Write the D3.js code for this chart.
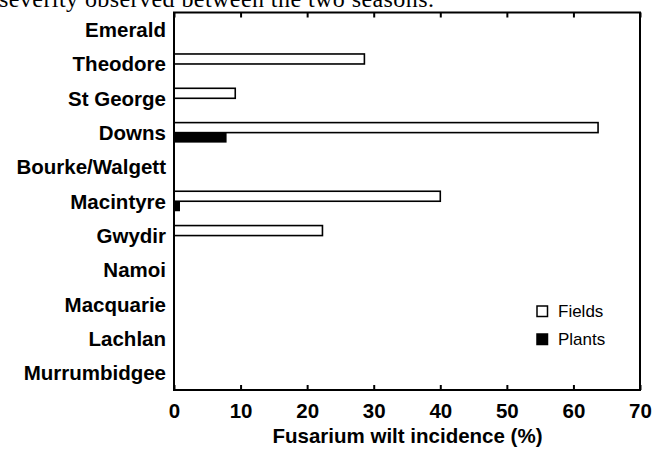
<!DOCTYPE html>
<html>
  <head>
  <title>Fusarium wilt incidence</title>
  </head>
  <body>
    <style>
        body, html {
          margin: 0;
          padding: 0;
          background: #fff;
          overflow: hidden;
        }
      </style>

  <svg id="svg" width="652" height="451"></svg>

  <script src="https://d3js.org/d3.v7.min.js"></script>
  <script>
    // Districts, top to bottom
    const regions = ['Emerald', 'Theodore', 'St George', 'Downs', 'Bourke/Walgett',
        'Macintyre', 'Gwydir', 'Namoi', 'Macquarie', 'Lachlan', 'Murrumbidgee']
    // % of fields with wilt
    const fields = [0, 28.6, 9.2, 63.7, 0, 40.0, 22.3, 0, 0, 0, 0]
    // % of plants with wilt
    const plants = [0, 0, 0, 7.9, 0, 0.9, 0, 0, 0, 0, 0]
    const xTicks = [0, 10, 20, 30, 40, 50, 60, 70]

    const plotLeft = 174
    const plotRight = 640
    const plotTop = 12.5
    const plotBottom = 390

    const svg = d3.select('#svg')

    // cropped caption line from the page above the figure
    svg.append('text')
        .attr('x', -1)
        .attr('y', 6.5)
        .attr('font-family', 'Liberation Serif, Times New Roman, serif')
        .attr('font-size', 24)
        .attr('textLength', 435)
        .text('severity observed between the two seasons.')

    const xscale = d3.scaleLinear()
        .domain([0, 70])
        .range([plotLeft, plotRight])

    const yscale = d3.scaleBand()
        .domain(regions)
        .range([plotTop, plotBottom])

    const barH = 10
    const rows = regions.map((r, i) => ({ region: r, fields: fields[i], plants: plants[i] }))

    const graph = svg.append('g')

    // open bars = fields
    graph.selectAll('.field')
        .data(rows.filter(d => d.fields > 0))
        .join('rect')
        .attr('x', xscale(0))
        .attr('y', d => yscale(d.region) + yscale.bandwidth() / 2 - barH)
        .attr('width', d => xscale(d.fields) - xscale(0))
        .attr('height', barH)
        .attr('fill', '#fff')
        .attr('stroke', '#000')
        .attr('stroke-width', 1.6)

    // filled bars = plants
    graph.selectAll('.plant')
        .data(rows.filter(d => d.plants > 0))
        .join('rect')
        .attr('x', xscale(0))
        .attr('y', d => yscale(d.region) + yscale.bandwidth() / 2)
        .attr('width', d => xscale(d.plants) - xscale(0))
        .attr('height', barH)
        .attr('fill', '#000')

    // frame
    svg.append('rect')
        .attr('x', plotLeft)
        .attr('y', plotTop)
        .attr('width', plotRight - plotLeft)
        .attr('height', plotBottom - plotTop)
        .attr('fill', 'none')
        .attr('stroke', '#000')
        .attr('stroke-width', 2)

    // inward ticks, bottom and top
    const bottomAxis = d3.axisBottom(xscale).tickValues(xTicks).tickSize(-5).tickFormat(d3.format('d'))
    const topAxis = d3.axisTop(xscale).tickValues(xTicks).tickSize(-5).tickFormat('')

    const bAxis = svg.append('g')
        .attr('transform', `translate(0, ${plotBottom})`)
        .call(bottomAxis)
    bAxis.select('.domain').remove()
    bAxis.selectAll('line').attr('stroke-width', 2)
    bAxis.selectAll('text')
        .attr('y', 0)
        .attr('dy', 28)
        .attr('font-family', 'Liberation Sans, Arial, sans-serif')
        .attr('font-weight', 'bold')
        .attr('font-size', 20.5)
        .attr('fill', '#000')

    const tAxis = svg.append('g')
        .attr('transform', `translate(0, ${plotTop})`)
        .call(topAxis)
    tAxis.select('.domain').remove()
    tAxis.selectAll('line').attr('stroke-width', 2)

    // category labels
    svg.append('g')
        .selectAll('text')
        .data(regions)
        .join('text')
        .attr('x', 166)
        .attr('y', d => yscale(d) + yscale.bandwidth() / 2)
        .attr('dy', '0.36em')
        .attr('text-anchor', 'end')
        .attr('font-family', 'Liberation Sans, Arial, sans-serif')
        .attr('font-weight', 'bold')
        .attr('font-size', 20.5)
        .text(d => d)

    // axis title
    svg.append('text')
        .attr('x', (plotLeft + plotRight) / 2 + 0.5)
        .attr('y', 443)
        .attr('text-anchor', 'middle')
        .attr('font-family', 'Liberation Sans, Arial, sans-serif')
        .attr('font-weight', 'bold')
        .attr('font-size', 20.5)
        .text('Fusarium wilt incidence (%)')

    // legend
    const legend = svg.append('g')
    const items = [{ name: 'Fields', fill: '#fff' }, { name: 'Plants', fill: '#000' }]
    items.forEach((it, i) => {
        const y0 = 306 + i * 28
        legend.append('rect')
            .attr('x', 537)
            .attr('y', y0)
            .attr('width', 10.5)
            .attr('height', 10.5)
            .attr('fill', it.fill)
            .attr('stroke', '#000')
            .attr('stroke-width', 1.5)
        legend.append('text')
            .attr('x', 558)
            .attr('y', y0 + 11)
            .attr('font-family', 'Liberation Sans, Arial, sans-serif')
            .attr('font-size', 17)
            .text(it.name)
    })
  </script>
  </body>
</html>
